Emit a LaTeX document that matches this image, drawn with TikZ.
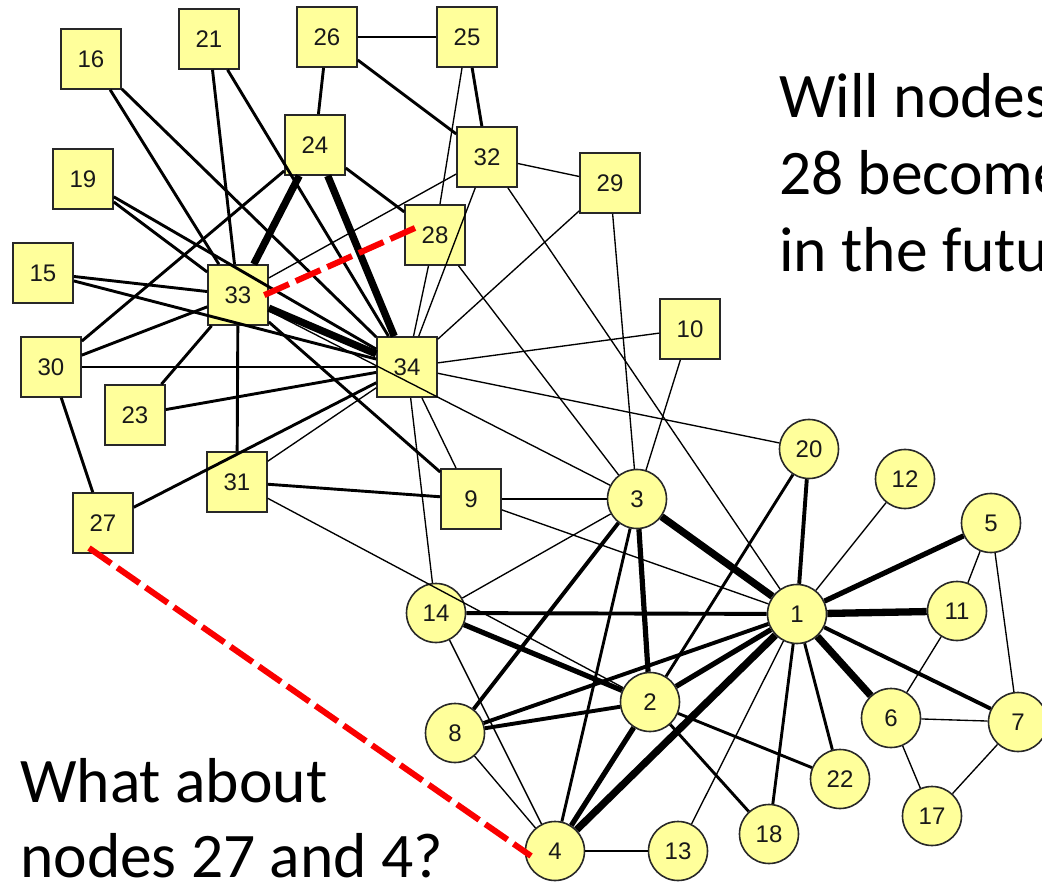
\documentclass[tikz,border=0pt]{standalone}
\usepackage{fontspec}
\newfontfamily\labelfont{Liberation Sans}
\newfontfamily\notefont{Carlito}
\definecolor{nodefill}{RGB}{255,255,155}
\definecolor{nodeedge}{RGB}{40,40,40}
\definecolor{labeltext}{RGB}{25,25,25}
\definecolor{guessred}{RGB}{250,0,0}
\begin{document}
\begin{tikzpicture}[x=1pt,y=-1pt,
  member/.style={draw=nodeedge, line width=1.6pt, fill=nodefill, inner sep=0pt,
    font=\labelfont\fontsize{24}{24}\selectfont, text=labeltext},
  sq/.style={member, rectangle, minimum size=60pt},
  rd/.style={member, circle, minimum size=59pt},
  tie/.style={black, line cap=butt},
  tiethin/.style={tie, line width=1.35pt},
  tiemed/.style={tie, line width=2.9pt},
  tiethick/.style={tie, line width=3.9pt},
  tiebold/.style={tie, line width=5.2pt},
  tieheavy/.style={tie, line width=7.3pt},
  guess/.style={guessred, line width=6pt, dash pattern=on 27pt off 7.5pt},
  note/.style={anchor=base west, inner sep=0pt, font=\notefont\fontsize{63.5}{77}\selectfont}]
\useasboundingbox (0,0) rectangle (1042,882);

% circle members
\foreach \i/\x/\y in {1/797/614, 2/650/702, 3/637/499, 4/555/851, 5/991/523,
  6/891/718, 7/1018/722, 8/455/733, 11/957/611, 12/905/479, 13/678/851,
  14/436/613, 17/932/816, 18/769/834, 20/809/449, 22/840/779}
  \node[rd] (n\i) at (\x,\y) {\i};

% square members
\foreach \i/\x/\y in {9/471/499, 10/690/329, 15/43/273, 16/91/59, 19/83/179,
  21/209/39, 23/135/415, 24/315/145, 25/467/37, 26/327/37, 27/103/523,
  28/435/235, 29/610/183, 30/51/367, 31/237/482, 32/487/157, 33/238/295,
  34/407/367}
  \node[sq] (n\i) at (\x,\y) {\i};

% ties, grouped by strength
\foreach \a/\b in {1/9, 1/12, 1/13, 1/32, 2/31, 3/9, 3/10, 3/14, 3/28, 3/29,
  3/33, 4/8, 4/13, 4/14, 5/7, 5/11, 6/7, 6/11, 6/17, 7/17, 9/34, 10/34,
  14/34, 20/34, 25/28, 28/34, 29/32, 29/34, 31/34, 32/33, 32/34}
  \draw[tiethin] (n\a) -- (n\b);
\foreach \a/\b in {1/18, 1/22, 2/18, 2/20, 2/22, 3/4, 9/31, 9/33, 15/33,
  15/34, 16/33, 16/34, 19/33, 19/34, 21/33, 21/34, 23/33, 23/34, 24/26,
  24/28, 24/30, 25/26, 25/32, 26/32, 27/30, 27/34, 30/33, 30/34, 31/33}
  \draw[tiemed] (n\a) -- (n\b);
\foreach \a/\b in {1/7, 1/8, 1/14, 1/20, 2/8, 3/8}
  \draw[tiethick] (n\a) -- (n\b);
\foreach \a/\b in {1/2, 1/5, 2/3, 2/4, 2/14}
  \draw[tiebold] (n\a) -- (n\b);
\foreach \a/\b in {1/3, 1/4, 1/6, 1/11, 24/33, 24/34, 33/34}
  \draw[tieheavy] (n\a) -- (n\b);

% possible future ties
\coordinate (g28) at (415,228);
\coordinate (g33) at (260,297);
\coordinate (g27) at (89,548);
\coordinate (g4) at (531,856);
\draw[guess] (g28) -- (g33);
\draw[guess] (g27) -- (g4);

% questions
\node[note] (q1a) at (779,118) {Will nodes};
\node[note] (q1b) at (779,195) {28 become};
\node[note] (q1c) at (779,272) {in the future};
\node[note] (q2a) at (20,802) {What about};
\node[note] (q2b) at (20,877) {nodes 27 and 4?};
\end{tikzpicture}
\end{document}
